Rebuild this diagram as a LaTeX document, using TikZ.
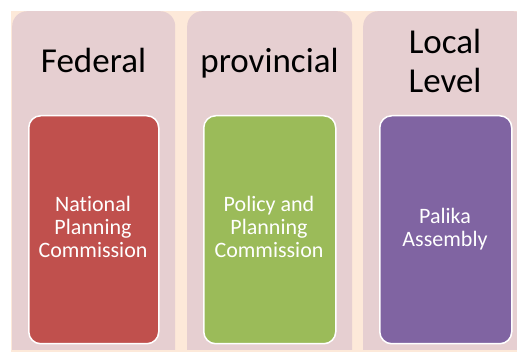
\documentclass[tikz,border=0pt]{standalone}
\usepackage{fontspec}
\setmainfont{Carlito}[Ligatures=NoCommon]
\definecolor{peach}{HTML}{FDE9D9}
\definecolor{panelpink}{HTML}{E6CFD1}
\definecolor{boxred}{HTML}{C0504D}
\definecolor{boxgreen}{HTML}{9BBB59}
\definecolor{boxpurple}{HTML}{8064A2}
\tikzset{
  panel/.style={fill=panelpink, rounded corners=15pt, minimum width=163pt, minimum height=370pt, anchor=north west, inner sep=0pt},
  inner/.style={draw=white, line width=1.5pt, rounded corners=12pt, minimum width=130pt, minimum height=228pt, anchor=north west, inner sep=0pt},
  title/.style={font=\fontsize{35}{39}\selectfont, anchor=base, align=center, inner sep=0pt, text=black},
  label/.style={font=\fontsize{22}{23}\selectfont, anchor=base, align=center, inner sep=0pt, text=white},
}
\begin{document}
\begin{tikzpicture}[x=1pt,y=-1pt]
\useasboundingbox (0,0) rectangle (517,352);
\fill[peach] (11,11) rectangle (517,352);
\begin{scope}
\clip (0,0) rectangle (517,350);
\node[panel] (p1) at (12,11) {};
\node[panel, minimum width=165pt] (p2) at (187,11) {};
\node[panel, minimum width=165pt] (p3) at (363,11) {};
\end{scope}
\node[inner, fill=boxred] (b1) at (28,115) {};
\node[inner, fill=boxgreen, minimum width=132pt] (b2) at (203,115) {};
\node[inner, fill=boxpurple, minimum width=132pt] (b3) at (379,115) {};
\node[title] (t1) at (93.5,73) {Federal};
\node[title] (t2) at (269.5,73) {provincial};
\node[title] (t3) at (445,93) {Local\\Level};
\node[label] (l1) at (93,257.7) {National\\Planning\\Commission};
\node[label] (l2) at (269,257.7) {Policy and\\Planning\\Commission};
\node[label] (l3) at (445,247) {Palika\\Assembly};
\end{tikzpicture}
\end{document}
